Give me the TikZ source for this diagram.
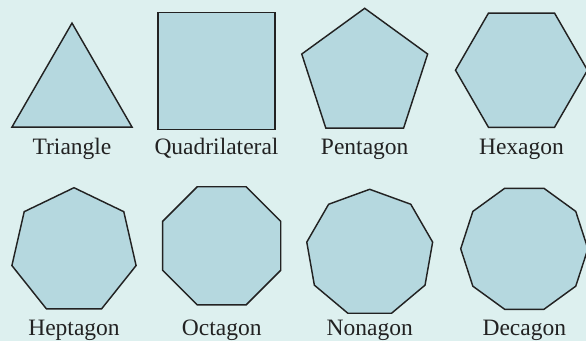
\documentclass[tikz,border=0pt]{standalone}
\usepackage{fontspec}
\setmainfont{Liberation Serif}
\definecolor{bgcol}{RGB}{221,240,239}
\definecolor{polyfill}{RGB}{181,216,223}
\definecolor{inkcol}{RGB}{34,34,34}
\tikzset{
  poly/.style={fill=polyfill,draw=inkcol,line width=1.45pt},
  lab/.style={anchor=base,text=inkcol,inner sep=0pt,font=\fontsize{23.5}{28}\selectfont}
}

\begin{document}
\begin{tikzpicture}[x=1pt,y=1pt]
  \useasboundingbox (0,0) rectangle (586,341);
  \fill[bgcol] (0,0) rectangle (586,341);
  % sides / centre / circumradius / name / label baseline
  \foreach \n/\cx/\cy/\r/\name/\ly in {3/72/248.6/69.3/Triangle/186.7, 4/216.5/270/82.7/Quadrilateral/186.7,
      5/364.7/266.5/66.2/Pentagon/186.7, 6/521.5/270.8/66/Hexagon/186.7,
      7/74/89.6/63.7/Heptagon/5.6, 8/221.7/95.2/63.9/Octagon/5.6,
      9/369.7/87.8/63.9/Nonagon/5.6, 10/524.3/92.2/63.6/Decagon/5.6}{
    \draw[poly,shift={(\cx,\cy)}] (-90+180/\n:\r) \foreach \k in {1,...,\n}{ -- (-90+180/\n+360*\k/\n:\r) } -- cycle;
    \node[lab] (\name) at (\cx,\ly) {\name};
  }
\end{tikzpicture}
\end{document}
